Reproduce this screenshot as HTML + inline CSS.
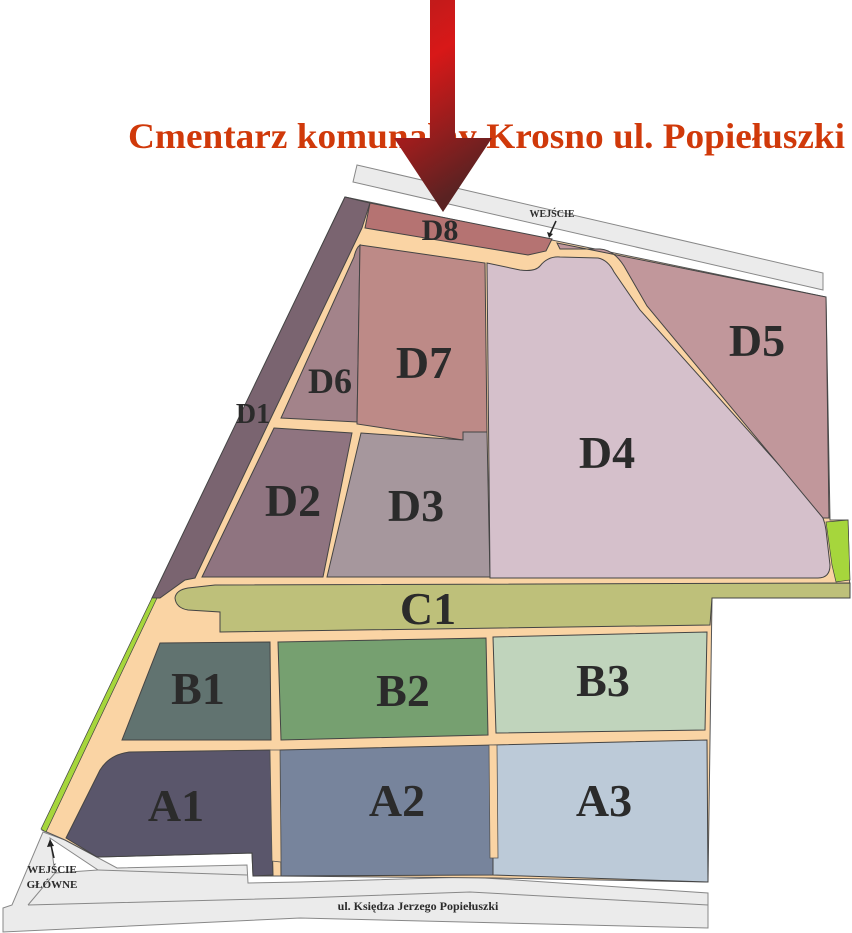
<!DOCTYPE html>
<html><head><meta charset="utf-8"><style>
html,body{margin:0;padding:0;background:#fff;}
svg{display:block;}
.l{font-family:"Liberation Serif",serif;font-weight:bold;fill:#2b2b2b;text-anchor:middle;}
</style></head><body>
<svg width="852" height="933" viewBox="0 0 852 933" xmlns="http://www.w3.org/2000/svg">
<defs>
<linearGradient id="ag" x1="0" y1="0" x2="0.3" y2="1">
<stop offset="0" stop-color="#b81c1c"/><stop offset="0.35" stop-color="#d81818"/><stop offset="1" stop-color="#5a2222"/>
</linearGradient>
</defs>
<polygon points="357,165 823,273 823,290 353,182" fill="#ebebeb" stroke="#888" stroke-width="1"/>
<polygon points="3,908 12,905 43,832 65,840 117,868 247,865 248,883 300,882 470,877 708,893 708,928 300,918 3,932" fill="#ebebeb" stroke="#888" stroke-width="1"/>
<polygon points="50,838 98,870 55,873" fill="#fff" stroke="#888" stroke-width="1"/>
<polyline points="28,905 55,873" fill="none" stroke="#888"/>
<polyline points="28,905 300,898 470,892 708,905" fill="none" stroke="#888"/>
<polyline points="98,870 247,875" fill="none" stroke="#888"/>
<polygon points="345,197 826,297 830,520 848,520 850,598 712,598 708,882 495,878 280,876 253,876 252,853 97,857 65,840 42,830" fill="#fad4a4" stroke="#555" stroke-width="1"/>
<polygon points="345,197 370,203 362,228 270,420 195,578 185,580 160,598 152,598" fill="#7a6470" stroke="#444" stroke-width="1"/>
<polygon points="152,598 157,598 46,832 41,829" fill="#a6d63c" stroke="#444" stroke-width="0.7"/>
<polygon points="826,522 848,520 850,580 836,582 832,565" fill="#a6d63c" stroke="#444" stroke-width="0.7"/>
<polygon points="370,203 552,239 546,251 528,255 365,228" fill="#b57372" stroke="#444" stroke-width="1"/>
<path d="M360,245 L357,422 L281,418 L354,257 Q356,248 360,245 Z" fill="#a3838a" stroke="#444" stroke-width="1"/>
<polygon points="360,245 485,263 487,432 463,432 463,440 357,424" fill="#bd8a87" stroke="#444" stroke-width="1"/>
<polygon points="274,428 352,433 323,577 202,577" fill="#8f7480" stroke="#444" stroke-width="1"/>
<polygon points="361,433 463,440 463,432 487,432 490,577 327,577" fill="#a6979d" stroke="#444" stroke-width="1"/>
<path d="M487,263 L520,270 Q535,272 540,266 Q548,256 560,257 L598,258 Q608,260 614,272 L640,310 L815,505 Q824,515 826,530 L830,565 Q830,578 818,578 L490,578 Z" fill="#d5c0cb" stroke="#444" stroke-width="1"/>
<path d="M557,243 L826,297 L829,518 L823,518 L647,306 L624,266 Q614,250 600,249 L560,249 Z" fill="#c1979b" stroke="#444" stroke-width="1"/>
<path d="M215,585 L850,583 L850,598 L712,598 L710,625 L220,632 L220,612 L188,610 Q176,608 175,598 Q176,590 188,588 Z" fill="#bec07a" stroke="#444" stroke-width="1"/>
<polygon points="160,643 270,642 271,740 122,740" fill="#617370" stroke="#444" stroke-width="1"/>
<polygon points="278,642 486,638 488,735 281,740" fill="#76a070" stroke="#444" stroke-width="1"/>
<polygon points="493,637 707,632 705,730 496,733" fill="#c0d4bc" stroke="#444" stroke-width="1"/>
<path d="M130,752 L270,750 L273,875 L253,876 L252,853 L97,857 L66,838 L100,770 Q110,754 130,752 Z" fill="#5a566b" stroke="#444" stroke-width="1"/>
<polygon points="280,750 493,745 493,875 281,876" fill="#77849c" stroke="#444" stroke-width="1"/>
<polygon points="493,745 707,740 708,882 493,875" fill="#bccad8" stroke="#444" stroke-width="1"/>
<polygon points="270,750 280,750 281,862 272,861" fill="#fad4a4" stroke="#555" stroke-width="0.8"/>
<polygon points="489,745 497,745 498,858 490,858" fill="#fad4a4" stroke="#555" stroke-width="0.8"/>
<text class="l" x="440" y="240" font-size="30">D8</text>
<text class="l" x="424" y="378" font-size="46">D7</text>
<text class="l" x="330" y="393" font-size="36">D6</text>
<text class="l" x="757" y="356" font-size="46">D5</text>
<text class="l" x="607" y="468" font-size="46">D4</text>
<text class="l" x="253" y="423" font-size="28">D1</text>
<text class="l" x="293" y="516" font-size="46">D2</text>
<text class="l" x="416" y="521" font-size="46">D3</text>
<text class="l" x="428" y="624" font-size="46">C1</text>
<text class="l" x="198" y="704" font-size="46">B1</text>
<text class="l" x="403" y="706" font-size="46">B2</text>
<text class="l" x="603" y="696" font-size="46">B3</text>
<text class="l" x="176" y="821" font-size="46">A1</text>
<text class="l" x="397" y="816" font-size="46">A2</text>
<text class="l" x="604" y="816" font-size="46">A3</text>
<text class="l" x="552" y="217" font-size="10">WEJŚCIE</text>
<line x1="556" y1="221" x2="550" y2="234" stroke="#222" stroke-width="1.5"/>
<polygon points="547,232 553,234 549,238" fill="#222"/>
<text class="l" x="52" y="873" font-size="11">WEJŚCIE</text>
<text class="l" x="52" y="888" font-size="11">GŁÓWNE</text>
<line x1="54" y1="858" x2="51" y2="845" stroke="#222" stroke-width="1.5"/>
<polygon points="47,847 54,846 50,839" fill="#222"/>
<text class="l" x="418" y="910" font-size="12" fill="#333">ul. Księdza Jerzego Popiełuszki</text>
<text x="128" y="148" font-family="Liberation Serif,serif" font-weight="bold" font-size="36" fill="#d0390a" textLength="717" lengthAdjust="spacingAndGlyphs">Cmentarz komunalny Krosno ul. Popiełuszki</text>
<polygon points="430,0 455,0 455,138 492,138 443,212 394,138 430,138" fill="url(#ag)"/>
</svg>
</body></html>
